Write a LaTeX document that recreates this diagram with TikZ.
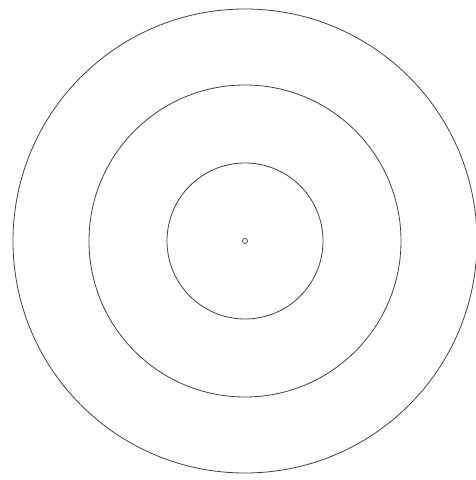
\documentclass[tikz,border=0pt]{standalone}
\usepackage{xcolor}
\usepackage{tikz}
\usetikzlibrary{positioning}
\definecolor{RingColor}{rgb}{0.25,0.25,0.25}
\tikzset{
    ring/.style={
        circle,
        draw=RingColor,
        line width=0.8pt,
        inner sep=0pt,
        minimum size=#1
    },
    centerdot/.style={ring=5pt, line width=0.7pt}
}

\begin{document}
\begin{tikzpicture}[x=1pt, y=1pt]

% Frame
\useasboundingbox (0, 0) rectangle (476, 480);

\coordinate (center) at (245, 239);

% Rings
\node[ring=156pt] (r_inner) at (center) {};
\node[ring=312pt] (r_middle) at (center) {};
\node[ring=464pt] (r_outer) at (center) {};

% Center
\node[centerdot] (c_dot) at (center) {};

\end{tikzpicture}
\end{document}
